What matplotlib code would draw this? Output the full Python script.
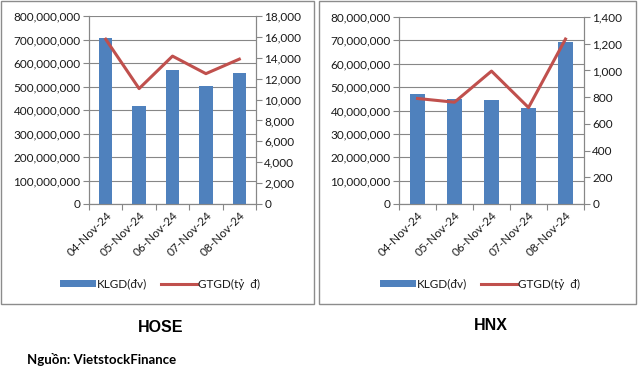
import matplotlib
matplotlib.use("Agg")
import matplotlib.pyplot as plt
from matplotlib.patches import Rectangle
from matplotlib.ticker import FuncFormatter, MultipleLocator

# data
dates = ['04-Nov-24', '05-Nov-24', '06-Nov-24', '07-Nov-24', '08-Nov-24']
hose_klgd = [707e6, 417e6, 569e6, 501e6, 556e6]
hose_gtgd = [15780, 11050, 14160, 12480, 13870]
hnx_klgd = [47.1e6, 45.0e6, 44.5e6, 40.9e6, 69.4e6]
hnx_gtgd = [790, 762, 995, 722, 1235]

BAR = '#4F81BD'
LINE = '#C0504D'
GRID = '#878787'
TXT = '#1a1a1a'

plt.rcParams['font.family'] = ['Lato', 'DejaVu Sans']

W, H = 639, 373
fig = plt.figure(figsize=(W / 100, H / 100), dpi=100)


def px_axes(x0, y0, x1, y1):
    # pixel box (top-left origin) -> figure axes
    return fig.add_axes([x0 / W, 1 - y1 / H, (x1 - x0) / W, (y1 - y0) / H])


comma = FuncFormatter(lambda v, p: f'{int(round(v)):,}')


def panel(box, frame, klgd, gtgd, lmax, lstep, rmax, rstep, leg):
    ax = px_axes(*box)
    x = range(len(dates))
    b = ax.bar(x, klgd, width=0.4, color=BAR, zorder=3)
    ax.set_xlim(-0.5, len(dates) - 0.5)
    ax.set_ylim(0, lmax)
    ax.yaxis.set_major_locator(MultipleLocator(lstep))
    ax.yaxis.set_major_formatter(comma)
    ax.grid(axis='y', color=GRID, lw=0.8, zorder=0)
    ax.set_xticks([i - 0.5 for i in range(len(dates) + 1)], minor=False)
    ax.set_xticklabels([])
    ax.set_xticks(list(x), minor=True)
    ax.set_xticklabels(dates, minor=True, rotation=45, ha='right',
                       rotation_mode='anchor', fontsize=8.5, color=TXT)
    ax.tick_params(axis='x', which='minor', length=0, pad=4)
    ax.tick_params(axis='x', which='major', length=4, color=GRID)
    ax.tick_params(axis='y', length=4, color=GRID, labelsize=8.5,
                   labelcolor=TXT, pad=2)
    ax.spines['top'].set_visible(False)
    for s in ['left', 'right', 'bottom']:
        ax.spines[s].set_color(GRID)

    ax2 = ax.twinx()
    l, = ax2.plot(list(x), gtgd, color=LINE, lw=2.2, zorder=4)
    ax2.set_ylim(0, rmax)
    ax2.yaxis.set_major_locator(MultipleLocator(rstep))
    ax2.yaxis.set_major_formatter(comma)
    ax2.tick_params(axis='y', length=4, color=GRID, labelsize=8.5,
                    labelcolor=TXT, pad=2)
    ax2.spines['top'].set_visible(False)
    for s in ['left', 'right', 'bottom']:
        ax2.spines[s].set_color(GRID)

    fig.legend([b, l], ['KLGD(đv)', 'GTGD(tỷ  đ)'], loc='center',
               bbox_to_anchor=(leg[0] / W, 1 - leg[1] / H), ncol=2,
               frameon=False, fontsize=8.5, handlelength=3.0,
               handleheight=0.6, handletextpad=0.1, columnspacing=1.2,
               labelcolor=TXT)

    fig.patches.append(Rectangle((frame[0] / W, 1 - frame[3] / H),
                                 (frame[2] - frame[0]) / W,
                                 (frame[3] - frame[1]) / H,
                                 transform=fig.transFigure, fill=False,
                                 edgecolor='#8c8c8c', lw=1))


panel((89, 16, 256, 204), (1, 1, 314, 304), hose_klgd, hose_gtgd,
      800e6, 100e6, 18000, 2000, (160, 284))
panel((399, 17, 584, 204), (319, 1, 636, 304), hnx_klgd, hnx_gtgd,
      80e6, 10e6, 1400, 200, (480, 284))

title_font = ['Liberation Sans', 'DejaVu Sans']
fig.text(161 / W, 1 - 328 / H, 'HOSE', ha='center', va='center',
         fontsize=11.5, fontweight='bold', family=title_font, color='black')
fig.text(491 / W, 1 - 326 / H, 'HNX', ha='center', va='center',
         fontsize=11.5, fontweight='bold', family=title_font, color='black')
fig.text(27 / W, 1 - 360 / H, 'Nguồn: VietstockFinance', ha='left',
         va='center', fontsize=9.5, fontweight='bold', color='black')

fig.savefig('out.png', dpi=100)
